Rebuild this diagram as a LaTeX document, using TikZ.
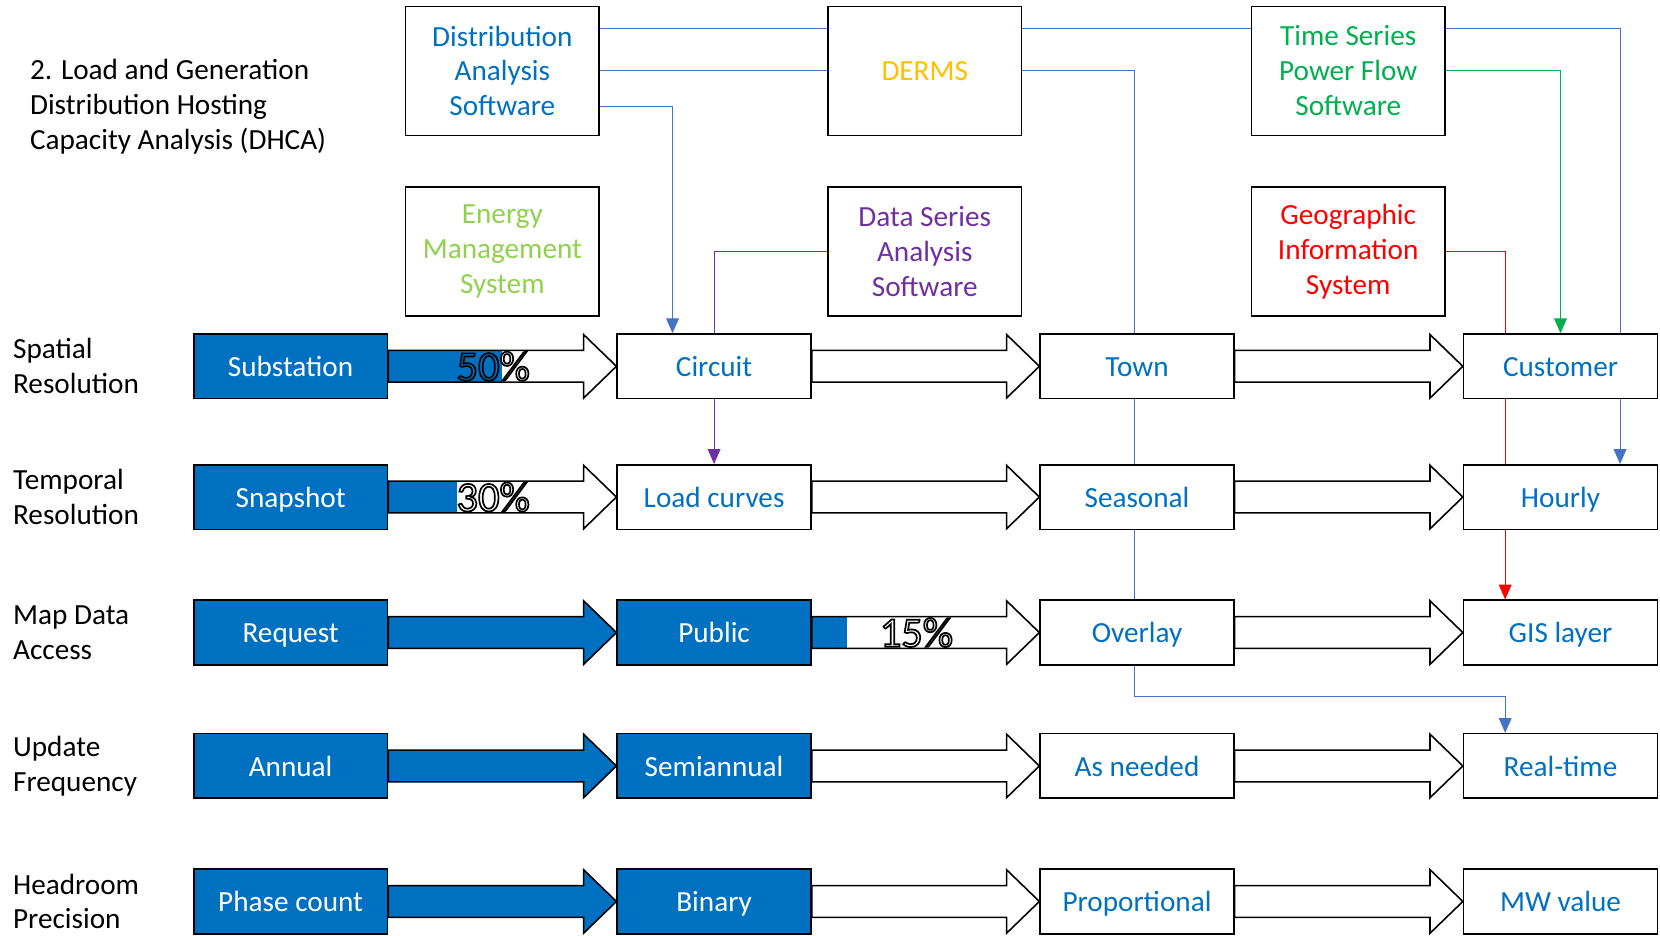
\documentclass[tikz,border=0pt]{standalone}
\usepackage{fontspec}
\setmainfont{Carlito}
\usetikzlibrary{calc,arrows.meta,backgrounds}

\definecolor{dhblue}{HTML}{0070C0}
\definecolor{linkblue}{HTML}{4472C4}
\definecolor{dermsyellow}{HTML}{FFC000}
\definecolor{tsgreen}{HTML}{00B050}
\definecolor{emsgreen}{HTML}{92D050}
\definecolor{dspurple}{HTML}{7030A0}
\definecolor{gisred}{HTML}{FF0000}

\tikzset{
  box/.style={draw, line width=0.75pt, fill=white, minimum width=91.5pt,
    minimum height=30.5pt, inner sep=0pt, text=dhblue,
    font=\fontsize{13.8}{16.5}\selectfont},
  stagebox/.style={box, text height=11.5pt, text depth=2pt},
  filledbox/.style={stagebox, fill=dhblue, text=white},
  toolbox/.style={box, minimum height=61pt, align=center},
  rowlabel/.style={anchor=west, align=left, inner sep=0pt,
    font=\fontsize{13.8}{16.5}\selectfont},
  link/.style={line width=0.5pt, -{Triangle[width=6pt,length=7pt]}},
  blockline/.style={line width=0.75pt, line join=miter},
  pct/.style={inner sep=0pt, font=\fontsize{20}{24}\selectfont},
}

% block arrow between two boxes, optional fill colour
\newcommand{\blockarrow}[3][white]{%
  \draw[blockline, fill=#1] let \p1=(#2.east), \p2=(#3.west) in
    (\x1,\y1+7.5pt) -- (\x2-15.5pt,\y1+7.5pt) -- (\x2-15.5pt,\y1+15pt)
    -- (\x2,\y1) -- (\x2-15.5pt,\y1-15pt) -- (\x2-15.5pt,\y1-7.5pt)
    -- (\x1,\y1-7.5pt) -- cycle;}
% block arrow filled up to a fraction of its length
\newcommand{\partarrow}[3]{%
  \fill[dhblue] let \p1=(#1.east), \p2=(#2.west) in
    (\x1,\y1-7.5pt) rectangle ({\x1+#3*(\x2-\x1)},\y1+7.5pt);
  \blockarrow[none]{#1}{#2}}
\newcommand{\outlinetext}[1]{\special{pdf:code 1 Tr 0.8 w}#1\special{pdf:code 0 Tr 0.4 w}}

\begin{document}
\begin{tikzpicture}[x=0.5pt, y=-0.5pt]
  \useasboundingbox (0,0) rectangle (1568,884);

  \node[rowlabel] (title) at (28,101) {2. Load and Generation\\Distribution Hosting\\Capacity Analysis (DHCA)};

  % tools
  \node[toolbox] (das) at (474.5,67) {Distribution\\Analysis\\Software};
  \node[toolbox, text=dermsyellow] (derms) at (873.5,67) {DERMS};
  \node[toolbox, text=tsgreen] (tsp) at (1273.5,67) {Time Series\\Power Flow\\Software};
  \node[toolbox, text=emsgreen] (ems) at (474.5,237.5) {Energy\\Management\\System};
  \node[toolbox, text=dspurple] (dsa) at (873.5,237.5) {Data Series\\Analysis\\Software};
  \node[toolbox, text=gisred] (gis) at (1273.5,237.5) {Geographic\\Information\\System};

  % row labels
  \node[rowlabel] (lspatial) at (12,346) {Spatial\\Resolution};
  \node[rowlabel] (ltemporal) at (12,469.5) {Temporal\\Resolution};
  \node[rowlabel] (lmap) at (12,597.5) {Map Data\\Access};
  \node[rowlabel] (lupdate) at (12,723.5) {Update\\Frequency};
  \node[rowlabel] (lheadroom) at (12,851.5) {Headroom\\Precision};

  % spatial resolution
  \node[filledbox] (substation) at (274.5,346) {Substation};
  \node[stagebox] (circuit) at (674.5,346) {Circuit};
  \node[stagebox] (town) at (1074,346) {Town};
  \node[stagebox] (customer) at (1474,346) {Customer};
  % temporal resolution
  \node[filledbox] (snapshot) at (274.5,469.5) {Snapshot};
  \node[stagebox] (loadcurves) at (674.5,469.5) {Load curves};
  \node[stagebox] (seasonal) at (1074,469.5) {Seasonal};
  \node[stagebox] (hourly) at (1474,469.5) {Hourly};
  % map data access
  \node[filledbox] (request) at (274.5,597.5) {Request};
  \node[filledbox] (public) at (674.5,597.5) {Public};
  \node[stagebox] (overlay) at (1074,597.5) {Overlay};
  \node[stagebox] (gislayer) at (1474,597.5) {GIS layer};
  % update frequency
  \node[filledbox] (annual) at (274.5,723.5) {Annual};
  \node[filledbox] (semiannual) at (674.5,723.5) {Semiannual};
  \node[stagebox] (asneeded) at (1074,723.5) {As needed};
  \node[stagebox] (realtime) at (1474,723.5) {Real-time};
  % headroom precision
  \node[filledbox] (phasecount) at (274.5,851.5) {Phase count};
  \node[filledbox] (binary) at (674.5,851.5) {Binary};
  \node[stagebox] (proportional) at (1074,851.5) {Proportional};
  \node[stagebox] (mwvalue) at (1474,851.5) {MW value};

  % block arrows
  \partarrow{substation}{circuit}{0.5}
  \blockarrow{circuit}{town}
  \blockarrow{town}{customer}
  \partarrow{snapshot}{loadcurves}{0.3}
  \blockarrow{loadcurves}{seasonal}
  \blockarrow{seasonal}{hourly}
  \blockarrow[dhblue]{request}{public}
  \partarrow{public}{overlay}{0.157}
  \blockarrow{overlay}{gislayer}
  \blockarrow[dhblue]{annual}{semiannual}
  \blockarrow{semiannual}{asneeded}
  \blockarrow{asneeded}{realtime}
  \blockarrow[dhblue]{phasecount}{binary}
  \blockarrow{binary}{proportional}
  \blockarrow{proportional}{mwvalue}

  \node[pct] (p50) at ($(substation.east)!0.46!(circuit.west)$) {\outlinetext{50\%}};
  \node[pct] (p30) at ($(snapshot.east)!0.46!(loadcurves.west)$) {\outlinetext{30\%}};
  \node[pct] (p15) at ($(public.east)!0.46!(overlay.west)$) {\outlinetext{15\%}};

  % tool links, behind the boxes
  \begin{pgfonlayer}{background}
    \draw[link, linkblue] ($(das.east)+(0,-40)$) -| ($(hourly.north east)+(-36,0)$);
    \draw[link, linkblue] (das.east) -| ($(overlay.south)+(-2,29)$) -| ($(realtime.north west)+(40,0)$);
    \draw[link, linkblue] ($(das.east)+(0,34)$) -| ($(circuit.north west)+(53,0)$);
    \draw[link, dspurple] (dsa.west) -| (loadcurves.north);
    \draw[link, tsgreen] (tsp.east) -| (customer.north);
    \draw[link, gisred] (gis.east) -| ($(gislayer.north west)+(40,0)$);
  \end{pgfonlayer}
\end{tikzpicture}
\end{document}
